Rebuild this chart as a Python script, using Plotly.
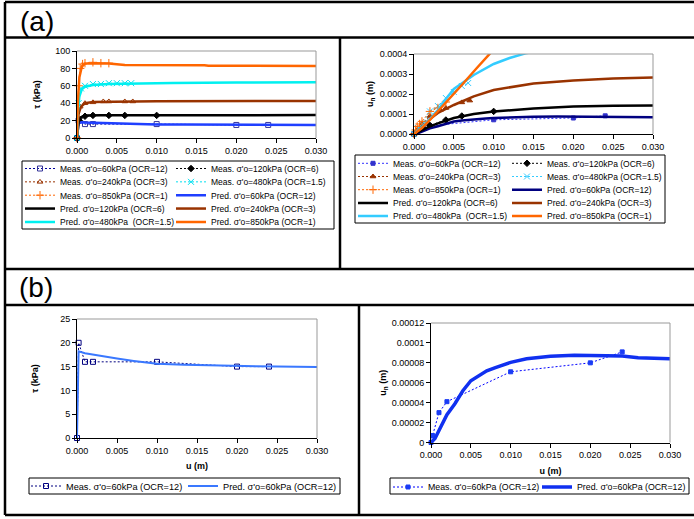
import plotly.graph_objects as go

W, H = 694, 519
FONT = "Liberation Sans, Arial, sans-serif"

# ---------------- tick labels ----------------
x_tick_vals = [0.000, 0.005, 0.010, 0.015, 0.020, 0.025, 0.030]
x_tick_text = ["0.000", "0.005", "0.010", "0.015", "0.020", "0.025", "0.030"]
tau_a_ticks = [0, 20, 40, 60, 80, 100]
un_a_ticks = [0, 0.0001, 0.0002, 0.0003, 0.0004]
un_a_tick_text = ["0.0000", "0.0001", "0.0002", "0.0003", "0.0004"]
tau_b_ticks = [0, 5, 10, 15, 20, 25]
un_b_ticks = [0, 0.00002, 0.00004, 0.00006, 0.00008, 0.0001, 0.00012]
un_b_tick_text = ["0", "0.00002", "0.00004", "0.00006", "0.00008", "0.0001", "0.00012"]

# ---------------- measured data (u in m, tau in kPa, un in m) ----------------
u_meas60 = [0, 0.0002, 0.001, 0.002, 0.010, 0.020, 0.024]
tau_meas60 = [0, 20, 16, 16, 16, 15, 15]
un_meas60 = [0, 0.000007, 0.00003, 0.000041, 0.000071, 0.00008, 0.000091]

u_meas120 = [0, 0.0003, 0.001, 0.002, 0.004, 0.006, 0.010]
tau_meas120 = [0, 20, 25, 26, 26, 26, 26]
un_meas120 = [0, 0.00001, 0.000033, 0.000043, 0.00007, 0.00009, 0.000113]

u_meas240 = [0, 0.0004, 0.001, 0.002, 0.0033, 0.004, 0.006, 0.007]
tau_meas240 = [0, 36, 40, 41, 42, 42, 42, 42]
un_meas240 = [0, 0.00002, 0.00005, 0.00009, 0.00012, 0.00013, 0.000158, 0.000167]

u_meas480 = [0, 0.0002, 0.0005, 0.001, 0.002, 0.003, 0.004, 0.005, 0.006, 0.0068]
tau_meas480 = [0, 40, 57, 60, 62, 62, 63, 63, 63, 63]
un_meas480 = [0, 0.00001, 0.00003, 0.00005, 0.000113, 0.00014, 0.00018, 0.00021, 0.00024, 0.000255]

u_meas850 = [0, 0.0002, 0.0004, 0.0007, 0.001, 0.002, 0.003, 0.004]
tau_meas850 = [0, 60, 80, 85, 86, 87, 86, 86]
un_meas850 = [0, 0.00002, 0.000038, 0.00005, 0.000063, 0.000113, 0.00013, 0.00016]

# ---------------- predicted curves ----------------
u_pred60_tau = [0, 0.0002, 0.001, 0.003, 0.005, 0.0071, 0.010, 0.0134, 0.0197, 0.025, 0.030]
tau_pred60 = [0, 18.2, 17.8, 17.2, 16.7, 16.2, 15.6, 15.4, 15.15, 15.0, 14.9]
u_pred120_tau = [0, 0.0002, 0.0005, 0.001, 0.003, 0.010, 0.020, 0.030]
tau_pred120 = [0, 18, 24, 26, 26.2, 26.3, 26.3, 26.3]
u_pred240_tau = [0, 0.0002, 0.0005, 0.001, 0.002, 0.005, 0.010, 0.030]
tau_pred240 = [0, 28, 36, 40, 41.5, 42, 42.3, 42.5]
u_pred480_tau = [0, 0.0001, 0.0003, 0.0006, 0.001, 0.002, 0.004, 0.007, 0.012, 0.020, 0.030]
tau_pred480 = [0, 30, 48, 56, 59, 61, 62, 62.8, 63.3, 63.7, 64]
u_pred850_tau = [0, 0.0001, 0.0003, 0.0006, 0.001, 0.002, 0.004, 0.006, 0.016, 0.0165, 0.030]
tau_pred850 = [0, 40, 70, 82, 85.5, 86, 85.5, 84, 83.7, 83, 82.8]

u_pred60_un = [0, 0.0005, 0.001, 0.0015, 0.002, 0.003, 0.004, 0.005, 0.006, 0.007, 0.008,
               0.009, 0.010, 0.012, 0.015, 0.018, 0.020, 0.024, 0.026, 0.030]
un_pred60 = [0, 0.000004, 0.000012, 0.00002, 0.000028, 0.000039, 0.000052, 0.000062, 0.0000675,
             0.000072, 0.000075, 0.000078, 0.0000805, 0.000084, 0.0000865, 0.0000875, 0.0000875,
             0.0000868, 0.000085, 0.000084]
u_pred120_un = [0, 0.001, 0.002, 0.003, 0.005, 0.0075, 0.010, 0.015, 0.020, 0.025, 0.030]
un_pred120 = [0, 0.00002, 0.000038, 0.000053, 0.00008, 0.0001, 0.000112, 0.000128, 0.000137, 0.000141, 0.000143]
u_pred240_un = [0, 0.001, 0.002, 0.003, 0.005, 0.0075, 0.010, 0.015, 0.020, 0.025, 0.030]
un_pred240 = [0, 0.000035, 0.000075, 0.000105, 0.000145, 0.000188, 0.00022, 0.000253, 0.000268, 0.000278, 0.000283]
u_pred480_un = [0, 0.001, 0.002, 0.003, 0.004, 0.005, 0.0075, 0.010, 0.012, 0.014, 0.016]
un_pred480 = [0, 0.000035, 0.000075, 0.00012, 0.000175, 0.000225, 0.000295, 0.00035, 0.00038, 0.000403, 0.00042]
u_pred850_un = [0, 0.001, 0.002, 0.004, 0.006, 0.008, 0.010, 0.012]
un_pred850 = [0, 0.00003, 0.00007, 0.000155, 0.000245, 0.000335, 0.000425, 0.00051]

# ---------------- legend labels ----------------
n_m60 = "Meas. σ'o=60kPa (OCR=12)"
n_m120 = "Meas. σ'o=120kPa (OCR=6)"
n_m240 = "Meas. σ'o=240kPa (OCR=3)"
n_m480 = "Meas. σ'o=480kPa (OCR=1.5)"
n_m850 = "Meas. σ'o=850kPa (OCR=1)"
n_p60 = "Pred. σ'o=60kPa (OCR=12)"
n_p120 = "Pred. σ'o=120kPa (OCR=6)"
n_p240 = "Pred. σ'o=240kPa (OCR=3)"
n_p480 = "Pred. σ'o=480kPa \u00a0(OCR=1.5)"
n_p850 = "Pred. σ'o=850kPa (OCR=1)"


def px_x(p):
    return p / W


def px_y(p):
    return 1 - p / H


DOT = "2px,2px"
fig = go.Figure()
legends = {}
counter = [0]


def new_legend(text_x, row_y, size):
    counter[0] += 1
    key = "legend" if counter[0] == 1 else f"legend{counter[0]}"
    legends[key] = dict(x=px_x(text_x - 40), y=px_y(row_y - 14.5), xanchor="left", yanchor="top",
                        orientation="v", bgcolor="rgba(0,0,0,0)", borderwidth=0,
                        font=dict(family=FONT, size=size, color="black"))
    return key


def meas(x, y, name, color, symbol, xa, ya, pos, mcolor=None, size=5, mline=1):
    fig.add_trace(go.Scatter(
        x=x, y=y, name=name, mode="lines+markers", xaxis=xa, yaxis=ya, legend=new_legend(*pos),
        showlegend=True, line=dict(color=color, width=1, dash=DOT), cliponaxis=False,
        marker=dict(symbol=symbol, size=size, color=mcolor or color,
                    line=dict(color=mcolor or color, width=mline))))


def pred(x, y, name, color, xa, ya, pos, width=2.5):
    fig.add_trace(go.Scatter(
        x=x, y=y, name=name, mode="lines", xaxis=xa, yaxis=ya, legend=new_legend(*pos),
        showlegend=True, line=dict(color=color, width=width)))


# legend grid positions (text start x, row centre y, font size)
FA = 8.5
ra = [168.5 + 13.35 * i for i in range(5)]
rb = [163.3 + 13.2 * i for i in range(5)]
AL1, AL2 = 60, 211
AR1, AR2 = 393, 547

# panel (a) left : tau vs u
meas(u_meas60, tau_meas60, n_m60, "#000099", "square-open", "x", "y", (AL1, ra[0], FA), "#333399")
meas(u_meas120, tau_meas120, n_m120, "#000000", "diamond", "x", "y", (AL2, ra[0], FA), size=5)
meas(u_meas240, tau_meas240, n_m240, "#993300", "triangle-up-open", "x", "y", (AL1, ra[1], FA))
meas(u_meas480, tau_meas480, n_m480, "#00E0F0", "x-thin-open", "x", "y", (AL2, ra[1], FA), size=6)
meas(u_meas850, tau_meas850, n_m850, "#FF6600", "cross-thin-open", "x", "y", (AL1, ra[2], FA), size=6)
pred(u_pred60_tau, tau_pred60, n_p60, "#1f3fff", "x", "y", (AL2, ra[2], FA))
pred(u_pred120_tau, tau_pred120, n_p120, "#000000", "x", "y", (AL1, ra[3], FA))
pred(u_pred240_tau, tau_pred240, n_p240, "#993300", "x", "y", (AL2, ra[3], FA))
pred(u_pred480_tau, tau_pred480, n_p480, "#00F0F0", "x", "y", (AL1, ra[4], FA))
pred(u_pred850_tau, tau_pred850, n_p850, "#FF6600", "x", "y", (AL2, ra[4], FA))

# panel (a) right : un vs u
meas(u_meas60, un_meas60, n_m60, "#3333FF", "square", "x2", "y2", (AR1, rb[0], FA), "#3333CC", size=4)
meas(u_meas120, un_meas120, n_m120, "#000000", "diamond", "x2", "y2", (AR2, rb[0], FA), size=5)
meas(u_meas240, un_meas240, n_m240, "#993300", "triangle-up", "x2", "y2", (AR1, rb[1], FA), size=5)
meas(u_meas480, un_meas480, n_m480, "#33CCFF", "x-thin-open", "x2", "y2", (AR2, rb[1], FA), size=6)
meas(u_meas850, un_meas850, n_m850, "#FF6600", "cross-thin-open", "x2", "y2", (AR1, rb[2], FA), size=6)
pred(u_pred60_un, un_pred60, n_p60, "#000080", "x2", "y2", (AR2, rb[2], FA))
pred(u_pred120_un, un_pred120, n_p120, "#000000", "x2", "y2", (AR1, rb[3], FA))
pred(u_pred240_un, un_pred240, n_p240, "#993300", "x2", "y2", (AR2, rb[3], FA))
pred(u_pred480_un, un_pred480, n_p480, "#33CCFF", "x2", "y2", (AR1, rb[4], FA))
pred(u_pred850_un, un_pred850, n_p850, "#FF6600", "x2", "y2", (AR2, rb[4], FA))

# panel (b) left
meas(u_meas60, tau_meas60, n_m60, "#000080", "square-open", "x3", "y3", (66, 486, 9.2), "#000080")
pred(u_pred60_tau, tau_pred60, n_p60, "#3a78ff", "x3", "y3", (223, 486, 9.2), width=2)

# panel (b) right
meas(u_meas60, un_meas60, n_m60, "#0000FF", "square", "x4", "y4", (428, 487, 8.8), "#1a3cf5", size=4)
pred(u_pred60_un, un_pred60, n_p60, "#1030F0", "x4", "y4", (577, 487, 8.8), width=3.5)

tickfont = dict(family=FONT, size=9, color="black")
titlefont = dict(family=FONT, size=9, color="black")


def xaxis(l, r, anchor, title=None, standoff=4):
    d = dict(domain=[px_x(l), px_x(r)], anchor=anchor, range=[0, 0.030],
             tickvals=x_tick_vals, ticktext=x_tick_text, showgrid=False, zeroline=False,
             showline=True, linecolor="black", linewidth=1, ticks="outside", ticklen=4,
             tickcolor="black", tickfont=tickfont, fixedrange=True, automargin=False)
    if title:
        d["title"] = dict(text=title, font=titlefont, standoff=standoff)
    return d


def yaxis(b, t, anchor, rng, vals, text, title, standoff):
    return dict(domain=[px_y(b), px_y(t)], anchor=anchor, range=rng,
                tickvals=vals, ticktext=text, showgrid=False, zeroline=False,
                showline=True, linecolor="black", linewidth=1, ticks="outside", ticklen=4,
                tickcolor="black", tickfont=tickfont, fixedrange=True, automargin=False,
                title=dict(text=title, font=titlefont, standoff=standoff))


tau_title = "<b>τ (kPa)</b>"
un_title = "<b>u<sub>n</sub> (m)</b>"
u_title = "<b>u (m)</b>"

fig.update_layout(
    template="none",
    showlegend=True,
    xaxis=xaxis(77, 316, "y"),
    yaxis=yaxis(138, 51, "x", [0, 100], tau_a_ticks, [str(v) for v in tau_a_ticks], tau_title, 13),
    xaxis2=xaxis(414, 653, "y2"),
    yaxis2=yaxis(134, 54, "x2", [0, 0.0004], un_a_ticks, un_a_tick_text, un_title, 4),
    xaxis3=xaxis(77, 317, "y3", u_title, 7),
    yaxis3=yaxis(438, 319, "x3", [0, 25], tau_b_ticks, [str(v) for v in tau_b_ticks], tau_title, 20),
    xaxis4=xaxis(431, 670, "y4", u_title, 8),
    yaxis4=yaxis(442.5, 323, "x4", [0, 0.00012], un_b_ticks, un_b_tick_text, un_title, 3),
)
fig.update_layout(**legends)

shapes = []
frame = dict(color="black", width=2.5)
for (x0, y0, x1, y1) in [(5, 2, 694, 2), (5, 37.5, 694, 37.5), (5, 269, 694, 269),
                         (5, 305, 694, 305), (5, 515, 694, 515), (5, 2, 5, 515),
                         (340, 37.5, 340, 269), (359, 305, 359, 515)]:
    shapes.append(dict(type="line", xref="paper", yref="paper", x0=px_x(x0), y0=px_y(y0),
                       x1=px_x(x1), y1=px_y(y1), line=frame))
for (x0, y0, x1, y1) in [(22, 161, 334, 229), (355, 155, 665, 223),
                         (29, 478, 340, 494), (390, 478, 689, 494)]:
    shapes.append(dict(type="rect", xref="paper", yref="paper", x0=px_x(x0), y0=px_y(y0),
                       x1=px_x(x1), y1=px_y(y1), line=dict(color="black", width=1)))
for k in ["", "2", "3", "4"]:
    for (a0, b0, a1, b1) in [(0, 1, 1, 1), (1, 0, 1, 1)]:
        shapes.append(dict(type="line", xref=f"x{k} domain", yref=f"y{k} domain",
                           x0=a0, y0=b0, x1=a1, y1=b1, line=dict(color="#999999", width=1)))

annotations = [
    dict(text="(a)", x=px_x(18), y=px_y(21.5), xref="paper", yref="paper", xanchor="left",
         yanchor="middle", showarrow=False, font=dict(family=FONT, size=28, color="black")),
    dict(text="(b)", x=px_x(17), y=px_y(287.5), xref="paper", yref="paper", xanchor="left",
         yanchor="middle", showarrow=False, font=dict(family=FONT, size=28, color="black")),
]

fig.update_layout(width=W, height=H, margin=dict(l=0, r=0, t=0, b=0, autoexpand=False),
                  paper_bgcolor="white", plot_bgcolor="white",
                  shapes=shapes, annotations=annotations, hovermode=False,
                  font=dict(family=FONT, color="black"))

fig.write_html("out.html", config={"displayModeBar": False},
               post_script="document.body.style.margin='0';")
